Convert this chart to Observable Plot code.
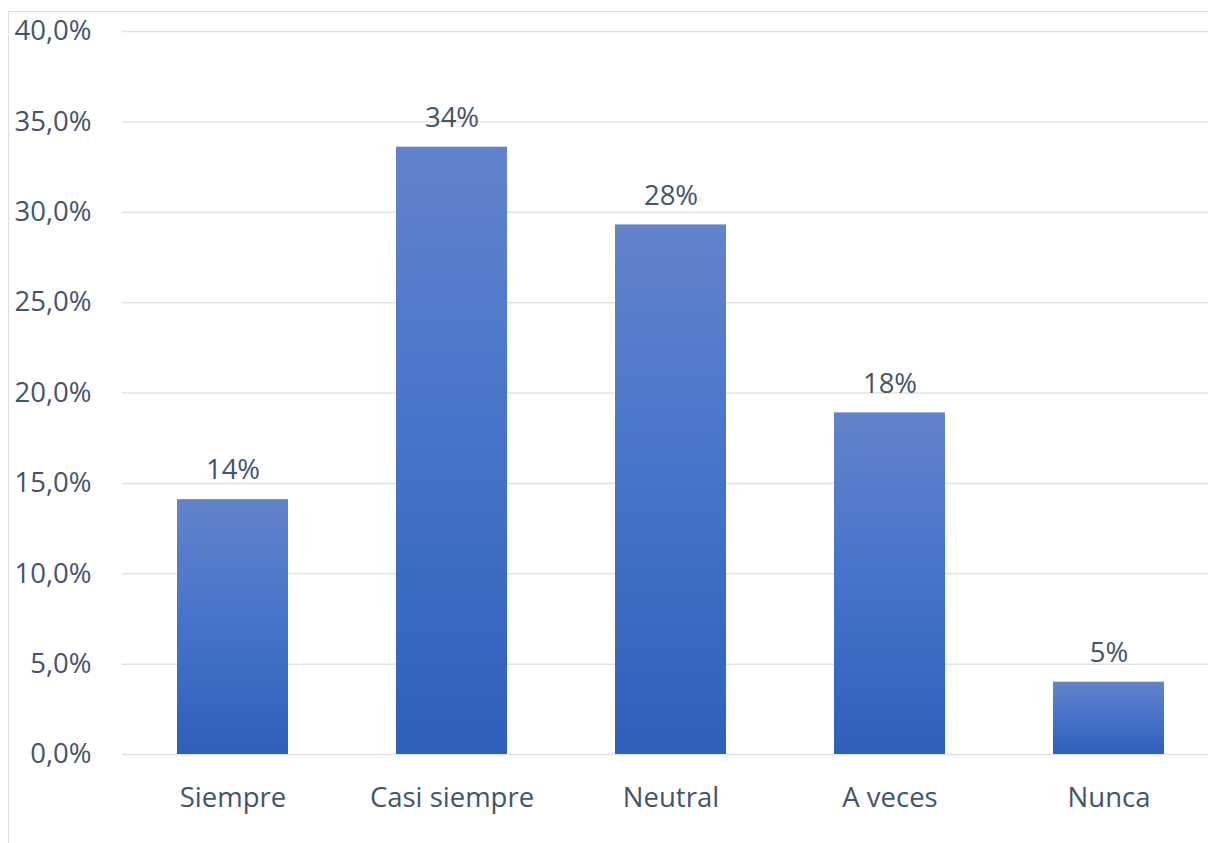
<!DOCTYPE html>
<html>
<head>
<meta charset="utf-8">
<script src="https://cdn.jsdelivr.net/npm/d3@7"></script>
<script src="https://cdn.jsdelivr.net/npm/@observablehq/plot@0.6"></script>
<style>
  html, body { margin: 0; padding: 0; background: #fff; width: 1208px; height: 843px; overflow: hidden; }
  #frame { position: absolute; left: 8px; top: 11px; width: 1400px; height: 1000px; border: 1.5px solid #dadfe6; box-sizing: border-box; }
  #chart { position: absolute; left: 0; top: 0; }
</style>
</head>
<body>
<div id="frame"></div>
<div id="chart"></div>
<script>
const categories = ["Siempre", "Casi siempre", "Neutral", "A veces", "Nunca"];
const values = [14.1, 33.6, 29.3, 18.9, 4.0];
const valueLabels = ["14%", "34%", "28%", "18%", "5%"];
const yTicks = [0, 5, 10, 15, 20, 25, 30, 35, 40];

const data = categories.map((c, i) => ({category: c, value: values[i], label: valueLabels[i]}));
const fmt = d => d.toFixed(1).replace(".", ",") + "%";
const textColor = "#44546A";
const font = "'Open Sans', 'Noto Sans', sans-serif";
const fs = 27.5;

const chart = Plot.plot({
  width: 1208,
  height: 843,
  marginTop: 31,
  marginBottom: 89,
  marginLeft: 122,
  marginRight: 0,
  style: {fontFamily: font, fontSize: fs + "px", color: textColor, background: "transparent", overflow: "visible"},
  x: {domain: categories, range: [122, 1219], paddingInner: 0.494, paddingOuter: 0.247},
  y: {domain: [0, 40]},
  marks: [
    Plot.ruleY(yTicks, {stroke: "#dfe3e8", strokeWidth: 1.5}),
    Plot.barY(data, {x: "category", y: "value", fill: "url(#barGrad)"}),
    Plot.text(data, {x: "category", y: "value", text: "label", dy: -29, fontSize: fs, fill: textColor}),
    Plot.axisY({ticks: yTicks, tickFormat: fmt, tickSize: 0, tickPadding: 31, fontSize: fs, label: null}),
    Plot.axisX({tickSize: 0, tickPadding: 33, fontSize: fs, label: null})
  ]
});

const svgNS = "http://www.w3.org/2000/svg";
const defs = document.createElementNS(svgNS, "defs");
const grad = document.createElementNS(svgNS, "linearGradient");
grad.setAttribute("id", "barGrad");
grad.setAttribute("x1", "0"); grad.setAttribute("y1", "0");
grad.setAttribute("x2", "0"); grad.setAttribute("y2", "1");
[["0%", "#6283cb"], ["50%", "#4573c9"], ["100%", "#2e5fbb"]].forEach(([o, c]) => {
  const s = document.createElementNS(svgNS, "stop");
  s.setAttribute("offset", o); s.setAttribute("stop-color", c);
  grad.appendChild(s);
});
defs.appendChild(grad);
chart.insertBefore(defs, chart.firstChild);

document.getElementById("chart").appendChild(chart);
</script>
</body>
</html>
